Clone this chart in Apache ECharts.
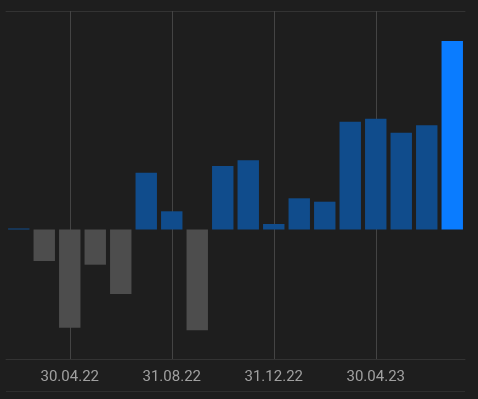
<!DOCTYPE html>
<html>
<head>
<meta charset="utf-8">
<script src="https://cdn.jsdelivr.net/npm/echarts@6/dist/echarts.min.js"></script>
<style>
  html, body { margin: 0; padding: 0; background: #1e1e1e; }
  #chart { width: 478px; height: 399px; }
</style>
</head>
<body>
<div id="chart"></div>
<script>
// month-end dates, Feb 2022 .. Jul 2023
var months = ['28.02.22', '31.03.22', '30.04.22', '31.05.22', '30.06.22', '31.07.22',
              '31.08.22', '30.09.22', '31.10.22', '30.11.22', '31.12.22', '31.01.23',
              '28.02.23', '31.03.23', '30.04.23', '31.05.23', '30.06.23', '31.07.23'];
var values = [0.1, -3.15, -9.82, -3.52, -6.45, 5.68, 1.82, -10.08, 6.35,
              6.92, 0.55, 3.12, 2.78, 10.78, 11.08, 9.68, 10.42, 18.85];
var yMin = -12.95, yMax = 21.85;

var chart = echarts.init(document.getElementById('chart'));

var every4 = function (i) { return i % 4 === 2; };
var gridDates = months.filter(function (m, i) { return every4(i); });

chart.setOption({
    backgroundColor: '#1e1e1e',
    animation: false,
    grid: { left: 6, right: 13, top: 11, bottom: 40 },
    xAxis: [
        {
            type: 'category',
            data: months,
            position: 'bottom',
            axisLine: { show: true, onZero: false, lineStyle: { color: '#333333', width: 1 } },
            axisTick: { show: false },
            axisLabel: {
                interval: every4,
                color: '#a0a0a0',
                fontFamily: 'Roboto',
                fontSize: 15,
                margin: 11
            },
            splitLine: { show: false }
        },
        {
            type: 'category',
            data: months,
            position: 'top',
            axisLine: { show: true, onZero: false, lineStyle: { color: '#333333', width: 1 } },
            axisTick: { show: false },
            axisLabel: { show: false }
        }
    ],
    yAxis: {
        type: 'value',
        min: yMin,
        max: yMax,
        axisLine: { show: false },
        axisTick: { show: false },
        axisLabel: { show: false },
        splitLine: { show: false }
    },
    graphic: [
        {
            type: 'line',
            shape: { x1: 6, y1: 391.5, x2: 465, y2: 391.5 },
            style: { stroke: '#2e2e2e', lineWidth: 1 }
        }
    ],
    series: [
        {
            type: 'bar',
            data: values,
            barCategoryGap: '16%',
            z: 3,
            itemStyle: {
                color: function (p) {
                    if (p.dataIndex === values.length - 1) return '#0a7cff';
                    return p.value < 0 ? '#4d4d4d' : '#104c8c';
                }
            },
            markLine: {
                silent: true,
                symbol: 'none',
                z: 1,
                label: { show: false },
                lineStyle: { color: '#444444', width: 1, type: 'solid' },
                data: gridDates.map(function (d) { return { xAxis: d }; })
            }
        }
    ]
});
</script>
</body>
</html>
